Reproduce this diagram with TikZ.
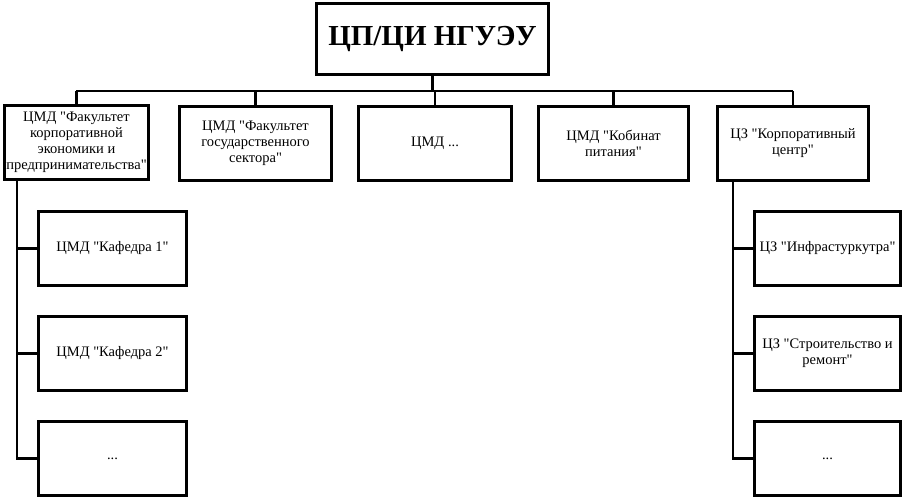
\documentclass[tikz,border=0pt]{standalone}
\usepackage{fontspec}
\setmainfont{Liberation Serif}[Ligatures=TeXOff]
\begin{document}
\begin{tikzpicture}[x=1pt,y=-1pt,
  box/.style={draw,line width=2.6pt,align=center,inner sep=1pt,
    font=\fontsize{14.5}{16}\selectfont},
  conn/.style={line width=2.6pt}]
\useasboundingbox (0,0) rectangle (904,498);
\node[box,minimum width=232,minimum height=71,font=\bfseries\fontsize{29}{34}\selectfont] (top) at (432.5,39) {ЦП/ЦИ НГУЭУ};
\node[box,minimum width=144,minimum height=74] (b1) at (76.5,142.5) {ЦМД "Факультет\\корпоративной\\экономики и\\предпринимательства"};
\node[box,minimum width=152,minimum height=74] (b2) at (255.5,143.5) {ЦМД "Факультет\\государственного\\сектора"};
\node[box,minimum width=153,minimum height=74] (b3) at (435,143.5) {ЦМД ...};
\node[box,minimum width=150,minimum height=74] (b4) at (613.5,143.5) {ЦМД "Кобинат\\питания"};
\node[box,minimum width=151,minimum height=74] (b5) at (793,143.5) {ЦЗ "Корпоративный\\центр"};
\foreach \n/\y/\t in {l1/248.5/{ЦМД "Кафедра 1"},l2/353.5/{ЦМД "Кафедра 2"},l3/458.5/{...}}
  \node[box,minimum width=148,minimum height=74] (\n) at (112.5,\y) {\t};
\foreach \n/\y/\t in {r1/248.5/{ЦЗ "Инфрастуркутра"},r2/353.5/{ЦЗ "Строительство и\\ремонт"},r3/458.5/{...}}
  \node[box,minimum width=146,minimum height=74] (\n) at (827.5,\y) {\t};
\coordinate (busL) at (77,91);
\coordinate (busR) at (792,91);
\draw[conn] (top.south) -- (top.south |- busL);
\draw[conn,line cap=rect] (busL) -- (busR);
\foreach \b in {b1,b2,b3,b4,b5} \draw[conn] (\b.north) -- (\b.north |- busL);
\coordinate (lv) at (17,181);
\coordinate (rv) at (733,181);
\draw[conn] (lv) -- (lv |- l3.west) -- (l3.west);
\foreach \n in {l1,l2} \draw[conn] (lv |- \n.west) -- (\n.west);
\draw[conn] (rv) -- (rv |- r3.west) -- (r3.west);
\foreach \n in {r1,r2} \draw[conn] (rv |- \n.west) -- (\n.west);
\end{tikzpicture}
\end{document}
